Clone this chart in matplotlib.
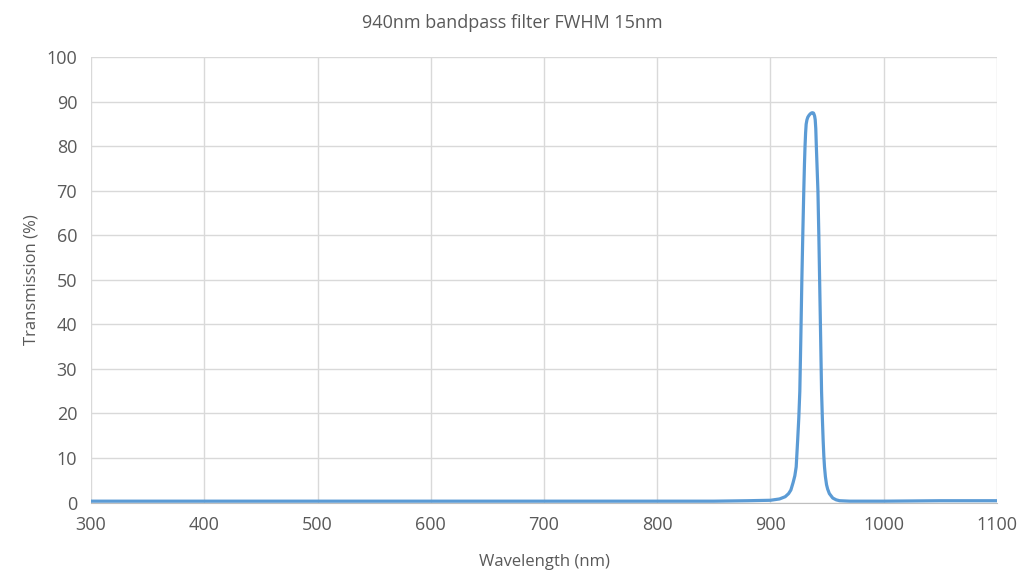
import matplotlib.pyplot as plt

# Transmission curve
wavelength = [300, 400, 500, 600, 700, 800, 850, 880, 900, 908, 913, 916, 918, 920, 921.5,
              922.7, 924, 925, 925.9, 926.8, 927.7, 928.6, 929.4, 930, 930.5, 931, 931.5,
              932.2, 933, 934, 935, 936, 937, 938, 938.5, 939, 939.5, 940, 940.5, 941.2,
              941.9, 942.7, 943.4, 944.3, 945.1, 945.8, 946.5, 947.1, 947.7, 948.5, 949.5,
              950.5, 952, 955, 958, 961, 970, 1000, 1050, 1100]
transmission = [0.3, 0.3, 0.3, 0.3, 0.3, 0.3, 0.3, 0.4, 0.5, 0.8, 1.3, 2.0, 2.8, 4.5, 6.0,
                8.0, 14.0, 19.0, 25.0, 37.0, 50.0, 61.0, 70.0, 76.0, 80.0, 83.0, 85.0,
                86.0, 86.6, 87.0, 87.3, 87.5, 87.6, 87.5, 87.2, 86.8, 86.0, 84.0, 80.0, 75.0,
                70.0, 60.0, 50.0, 37.0, 25.0, 19.0, 14.0, 10.5, 8.0, 5.8, 4.0,
                3.0, 2.0, 1.0, 0.6, 0.4, 0.3, 0.3, 0.4, 0.4]

TITLE = "940nm bandpass filter FWHM 15nm"
XLABEL = "Wavelength (nm)"
YLABEL = "Transmission (%)"

plt.rcParams["font.family"] = ["Open Sans", "DejaVu Sans"]

fig = plt.figure(figsize=(10.24, 5.72), dpi=100)
ax = fig.add_axes([0.0889, 0.1215, 0.8847, 0.778])

ax.plot(wavelength, transmission, color="#5B9BD5", linewidth=2.3, solid_joinstyle="round")

ax.set_xlim(300, 1100)
ax.set_ylim(0, 100)
ax.set_xticks(range(300, 1101, 100))
ax.set_yticks(range(0, 101, 10))
ax.grid(True, color="#d9d9d9", linewidth=1)
ax.set_axisbelow(True)

for side in ("top", "right", "left"):
	ax.spines[side].set_visible(False)
ax.spines["bottom"].set_color("#bfbfbf")
ax.tick_params(length=0, labelsize=13, colors="#595959", pad=10)

ax.set_xlabel(XLABEL, fontsize=12, color="#595959", labelpad=14)
ax.set_ylabel(YLABEL, fontsize=12, color="#595959", labelpad=5)
fig.suptitle(TITLE, y=0.975, fontsize=13, color="#595959")

fig.savefig("out.png", dpi=100)
